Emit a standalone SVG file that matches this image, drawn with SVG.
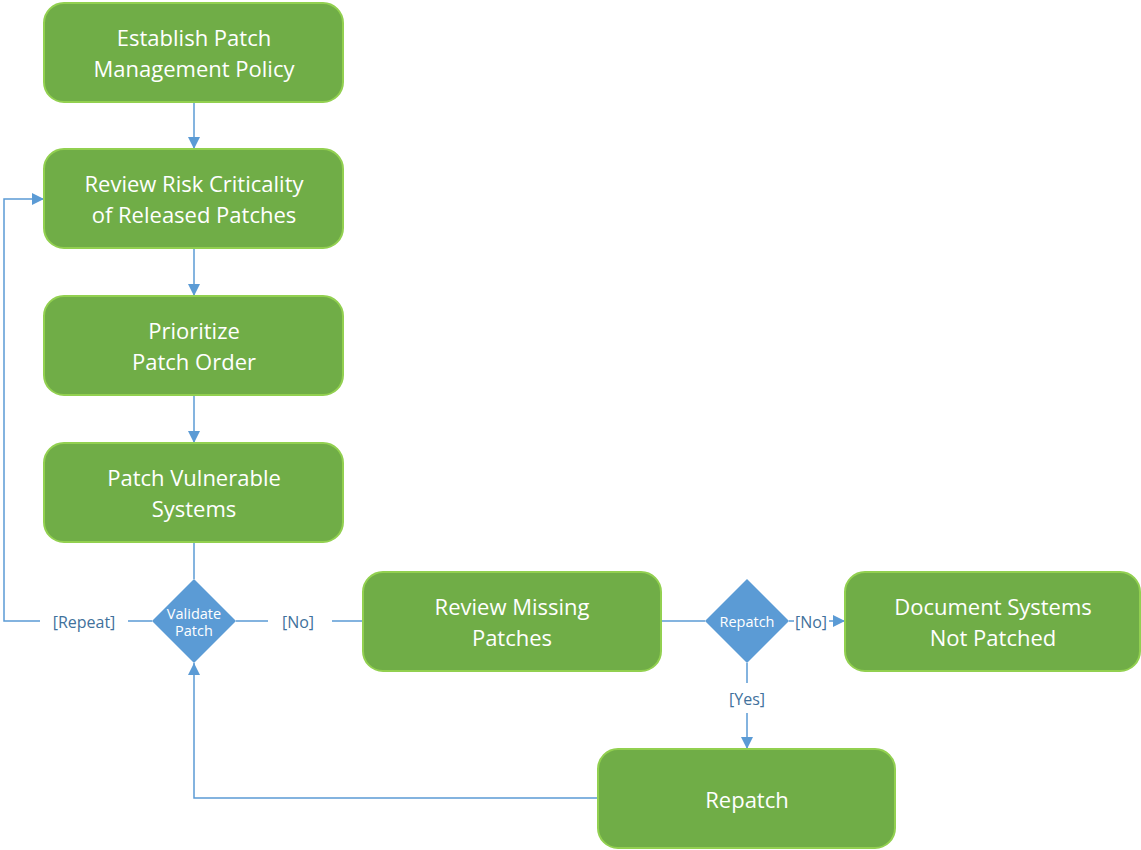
<svg xmlns="http://www.w3.org/2000/svg" width="1141" height="850" viewBox="0 0 1141 850">
  <style>
    .box { fill: #70AD47; stroke: #92D050; stroke-width: 2; }
    .dia { fill: #5B9BD5; }
    .bt { font-family: "Open Sans", "Liberation Sans", sans-serif; font-size: 22px; fill: #FFFFFF; text-anchor: middle; }
    .dt { font-family: "Open Sans", "Liberation Sans", sans-serif; font-size: 14.5px; fill: #FFFFFF; text-anchor: middle; }
    .lbl { font-family: "Open Sans", "Liberation Sans", sans-serif; font-size: 16px; fill: #41719C; text-anchor: middle; }
    .ln { fill: none; stroke: #5B9BD5; stroke-width: 1.5; }
  </style>
  <defs>
    <marker id="arr" viewBox="0 0 10 10" refX="10" refY="5" markerWidth="12" markerHeight="12" markerUnits="userSpaceOnUse" orient="auto">
      <path d="M0,0 L10,5 L0,10 Z" fill="#5B9BD5"/>
    </marker>
  </defs>
  <rect width="1141" height="850" fill="#FFFFFF"/>

  <g id="connectors">
    <path class="ln" d="M194,102 V149" marker-end="url(#arr)"/>
    <path class="ln" d="M194,248 V296" marker-end="url(#arr)"/>
    <path class="ln" d="M194,395 V443" marker-end="url(#arr)"/>
    <path class="ln" d="M194,542 V579"/>
    <path class="ln" d="M152,621 H128 M40,621 H4 V199 H44" marker-end="url(#arr)"/>
    <text class="lbl" x="84" y="628">[Repeat]</text>
    <path class="ln" d="M236,621 H268 M332,621 H363"/>
    <text class="lbl" x="298" y="628">[No]</text>
    <path class="ln" d="M661,621 H705"/>
    <path class="ln" d="M789,621 H794 M829,621 H845" marker-end="url(#arr)"/>
    <text class="lbl" x="811" y="628">[No]</text>
    <path class="ln" d="M747,663 V683 M747,713 V749" marker-end="url(#arr)"/>
    <text class="lbl" x="747" y="705">[Yes]</text>
    <path class="ln" d="M598,798 H194 V663" marker-end="url(#arr)"/>
  </g>

  <g id="establish-policy">
    <rect class="box" x="44" y="3" width="299" height="99" rx="20"/>
    <text class="bt" x="194" y="46">Establish Patch</text>
    <text class="bt" x="194" y="77">Management Policy</text>
  </g>
  <g id="review-risk">
    <rect class="box" x="44" y="149" width="299" height="99" rx="20"/>
    <text class="bt" x="194" y="192">Review Risk Criticality</text>
    <text class="bt" x="194" y="223">of Released Patches</text>
  </g>
  <g id="prioritize">
    <rect class="box" x="44" y="296" width="299" height="99" rx="20"/>
    <text class="bt" x="194" y="339">Prioritize</text>
    <text class="bt" x="194" y="370">Patch Order</text>
  </g>
  <g id="patch-systems">
    <rect class="box" x="44" y="443" width="299" height="99" rx="20"/>
    <text class="bt" x="194" y="486">Patch Vulnerable</text>
    <text class="bt" x="194" y="517">Systems</text>
  </g>
  <g id="validate-patch">
    <path class="dia" d="M194,579 L236,621 L194,663 L152,621 Z"/>
    <text class="dt" x="194" y="619">Validate</text>
    <text class="dt" x="194" y="636">Patch</text>
  </g>
  <g id="review-missing">
    <rect class="box" x="363" y="572" width="298" height="99" rx="20"/>
    <text class="bt" x="512" y="615">Review Missing</text>
    <text class="bt" x="512" y="646">Patches</text>
  </g>
  <g id="repatch-decision">
    <path class="dia" d="M747,579 L789,621 L747,663 L705,621 Z"/>
    <text class="dt" x="747" y="627">Repatch</text>
  </g>
  <g id="document-unpatched">
    <rect class="box" x="845" y="572" width="295" height="99" rx="20"/>
    <text class="bt" x="993" y="615">Document Systems</text>
    <text class="bt" x="993" y="646">Not Patched</text>
  </g>
  <g id="repatch">
    <rect class="box" x="598" y="749" width="297" height="99" rx="20"/>
    <text class="bt" x="747" y="808">Repatch</text>
  </g>
</svg>
